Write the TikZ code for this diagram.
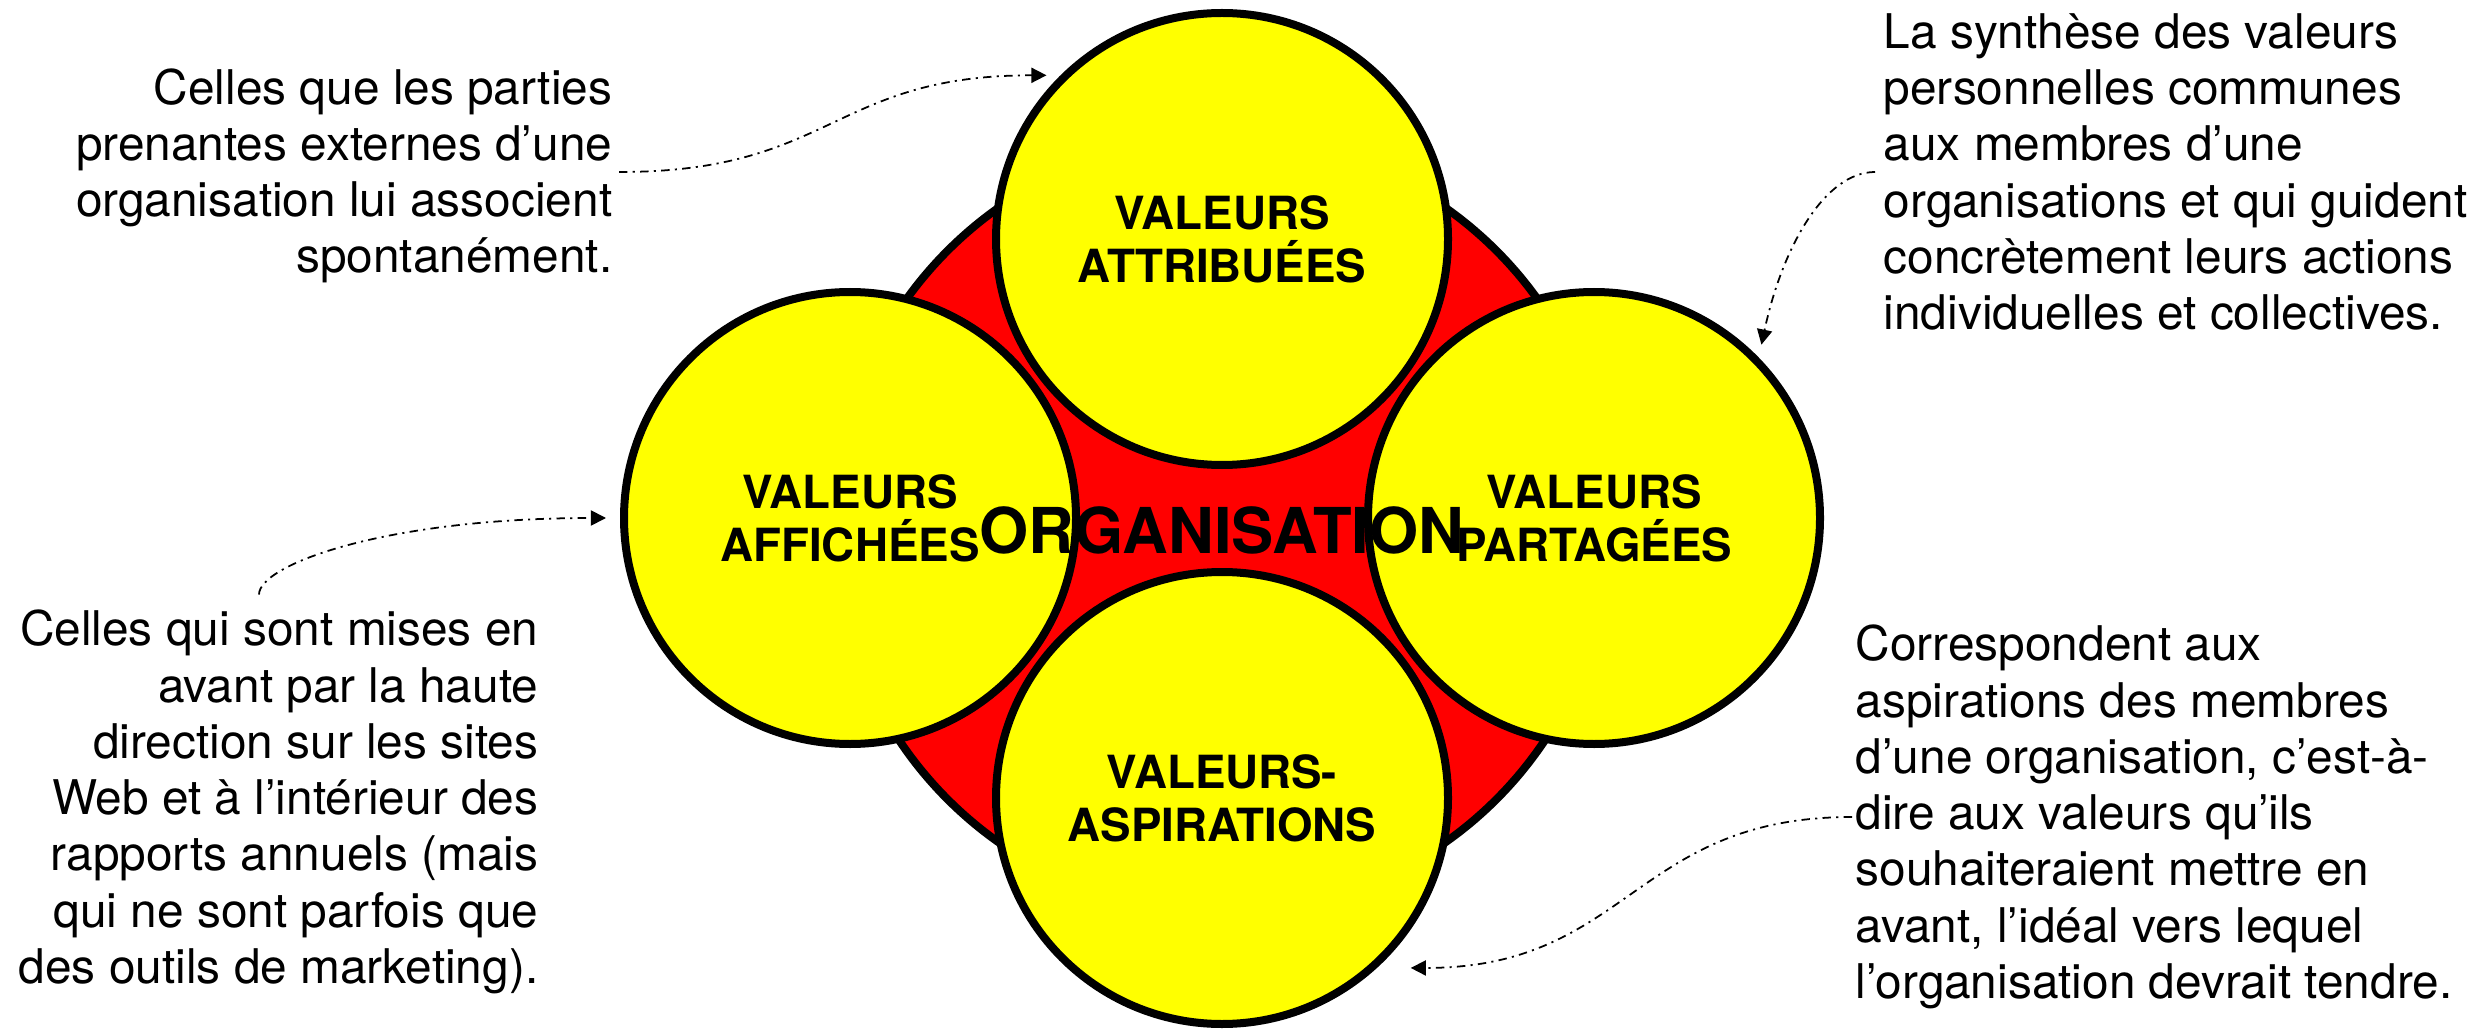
\documentclass[tikz,border=0pt]{standalone}
\usepackage{fontspec}
\setmainfont{TeX Gyre Heros}
\usepackage{tikz}
\usetikzlibrary{arrows.meta}
\definecolor{jaune}{RGB}{255,255,0}
\definecolor{rouge}{RGB}{255,0,0}
\tikzset{
        >={Triangle[length=4.3pt,width=4.3pt]}, % small filled heads
        valeur/.style={circle, draw=black, line width=0.08cm, fill=jaune, minimum size=4.52cm, align=center, font=\fontsize{13}{15.1}\selectfont\bfseries}, % the four yellow discs
        note/.style={inner sep=0pt, font=\fontsize{13.6}{16}\selectfont}, % side texts
        renvoi/.style={->, line width=0.5pt, dash pattern=on 2.4pt off 1.5pt on 0.6pt off 1.5pt},
}
\begin{document}
\begin{tikzpicture}
\useasboundingbox (0,0) rectangle (24.89,10.30);
\node[circle, draw=black, line width=0.08cm, fill=rouge, minimum size=7.76cm] (org) at (12.22,5.05) {};
\node[valeur] (attribuees) at (12.22,7.91) {VALEURS\\ATTRIBUÉES};
\node[valeur] (affichees) at (8.50,5.12) {VALEURS\\AFFICHÉES};
\node[valeur] (partagees) at (15.94,5.12) {VALEURS\\PARTAGÉES};
\node[valeur] (aspirations) at (12.22,2.32) {VALEURS-\\ASPIRATIONS};
\node[font=\fontsize{18}{20}\selectfont\bfseries, inner sep=0pt] (titre) at (12.22,5.00) {ORGANISATION};

% the four explanations
\node[note, anchor=east, align=right] (noteattr) at (6.13,8.54) {Celles que les parties\\prenantes externes d’une\\organisation lui associent\\spontanément.};
\node[note, anchor=east, align=right] (noteaff) at (5.39,2.28) {Celles qui sont mises en\\avant par la haute\\direction sur les sites\\Web et à l’intérieur des\\rapports annuels (mais\\qui ne sont parfois que\\des outils de marketing).};
\node[note, anchor=west, align=left] (notepart) at (18.83,8.58) {La synthèse des valeurs\\personnelles communes\\aux membres d’une\\organisations et qui guident\\concrètement leurs actions\\individuelles et collectives.};
\node[note, anchor=west, align=left] (noteasp) at (18.55,2.13) {Correspondent aux\\aspirations des membres\\d’une organisation, c’est-à-\\dire aux valeurs qu’ils\\souhaiteraient mettre en\\avant, l’idéal vers lequel\\l’organisation devrait tendre.};

\draw[renvoi] ([shift={(0.06,0.04)}]noteattr.east) to[out=0,in=180,looseness=1.25] ([shift={(137:2.40)}]attribuees.center);
\draw[renvoi] ([shift={(-2.80,0.15)}]noteaff.north east) .. controls +(0,0.3) and +(-2.2,0) .. ([xshift=-0.14cm]affichees.west);
\draw[renvoi] ([xshift=-0.08cm]notepart.west) .. controls +(-0.5,0) and +(0.21,0.98) .. ([shift={(46:2.41)}]partagees.center);
\draw[renvoi] ([xshift=-0.03cm]noteasp.west) to[out=180,in=0,looseness=1.2] ([shift={(-42:2.54)}]aspirations.center);

\end{tikzpicture}
\end{document}
